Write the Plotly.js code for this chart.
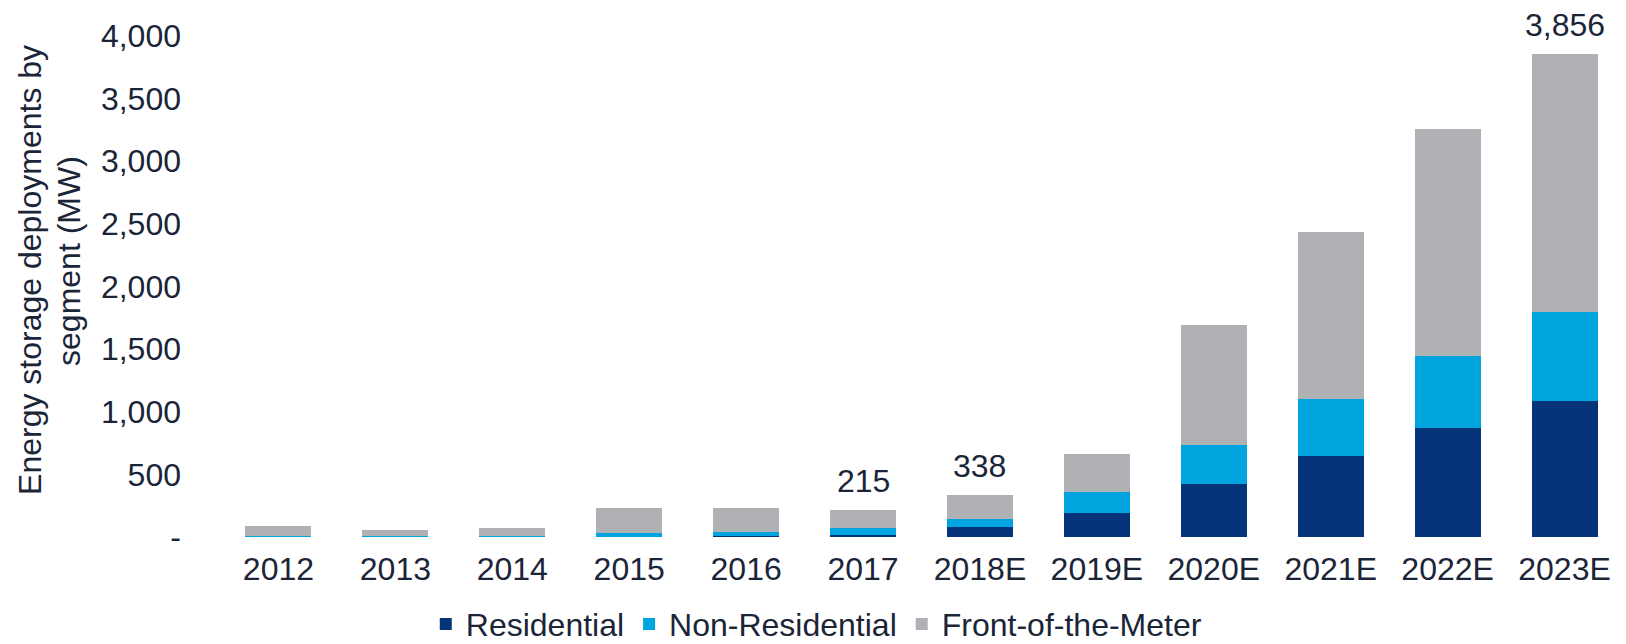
<!DOCTYPE html>
<html>
<head>
<meta charset="utf-8">
<script src="https://cdn.plot.ly/plotly-3.0.1.min.js"></script>
<style>
  html, body { margin: 0; padding: 0; background: #ffffff; }
  #chart { width: 1626px; height: 644px; }
</style>
</head>
<body>
<div id="chart"></div>
<script>
// ---- Data (MW) ----
const years = ['2012', '2013', '2014', '2015', '2016', '2017', '2018E', '2019E', '2020E', '2021E', '2022E', '2023E'];
const residential    = [2, 1, 2, 3, 5, 16, 77, 195, 424, 643, 870, 1088];
const nonResidential = [8, 5, 8, 26, 33, 53, 64, 168, 307, 458, 573, 707];
const frontOfMeter   = [80, 49, 62, 200, 197, 146, 197, 299, 965, 1334, 1813, 2061];
const labelledYears  = ['2017', '2018E', '2023E'];
const yTickVals  = [0, 500, 1000, 1500, 2000, 2500, 3000, 3500, 4000];
const yTickText  = ['-', '500', '1,000', '1,500', '2,000', '2,500', '3,000', '3,500', '4,000'];
const yTitleLines = ['Energy storage deployments by', 'segment (MW)'];

const FONT = 'Liberation Sans, Arial, sans-serif';
const TXT = '#1b2538';

const totals = years.map((_, i) => residential[i] + nonResidential[i] + frontOfMeter[i]);

function mk(name, vals, color) {
  return {
    type: 'bar', name: name, x: years, y: vals,
    marker: { color: color, line: { width: 0 } },
    hoverinfo: 'x+y+name'
  };
}

const traces = [
  mk('Residential', residential, '#06347a'),
  mk('Non-Residential', nonResidential, '#00a5e0'),
  mk('Front-of-the-Meter', frontOfMeter, '#b0b1b4')
];

const annotations = labelledYears.map(yr => {
  const i = years.indexOf(yr);
  return {
    x: i, y: totals[i], xref: 'x', yref: 'y',
    text: totals[i].toLocaleString('en-US'),
    showarrow: false, yanchor: 'bottom', yshift: 9,
    font: { family: FONT, size: 32, color: TXT }
  };
});

annotations.push({
  xref: 'paper', yref: 'paper', x: 0, y: 0.533, xshift: -190,
  xanchor: 'center', yanchor: 'middle', textangle: -90,
  text: yTitleLines[0], showarrow: false,
  font: { family: FONT, size: 32, color: TXT }
});
annotations.push({
  xref: 'paper', yref: 'paper', x: 0, y: 0.551, xshift: -151,
  xanchor: 'center', yanchor: 'middle', textangle: -90,
  text: yTitleLines[1], showarrow: false,
  font: { family: FONT, size: 32, color: TXT }
});

const layout = {
  width: 1626, height: 644,
  margin: { l: 220, r: 3, t: 36, b: 107, pad: 0, autoexpand: false },
  paper_bgcolor: '#ffffff', plot_bgcolor: '#ffffff',
  barmode: 'stack',
  bargap: 0.436,
  font: { family: FONT, size: 32, color: TXT },
  xaxis: {
    type: 'category',
    range: [-0.5, years.length - 0.5],
    showgrid: false, zeroline: false, showline: false, ticks: '',
    tickangle: 0,
    tickfont: { family: FONT, size: 32, color: TXT },
    ticklabelstandoff: 10
  },
  yaxis: {
    range: [0, 4000],
    showgrid: false, zeroline: false, showline: false, ticks: '',
    tickvals: yTickVals, ticktext: yTickText,
    tickfont: { family: FONT, size: 32, color: TXT },
    ticklabelstandoff: 38
  },
  showlegend: true,
  legend: {
    orientation: 'h', x: 0.425, xref: 'paper', xanchor: 'center',
    y: -0.174, yref: 'paper', yanchor: 'middle',
    font: { family: FONT, size: 32, color: TXT },
    traceorder: 'normal', itemclick: false, itemdoubleclick: false,
    bgcolor: 'rgba(0,0,0,0)'
  },
  annotations: annotations
};

Plotly.newPlot('chart', traces, layout, { displayModeBar: false, staticPlot: true });
</script>
</body>
</html>
